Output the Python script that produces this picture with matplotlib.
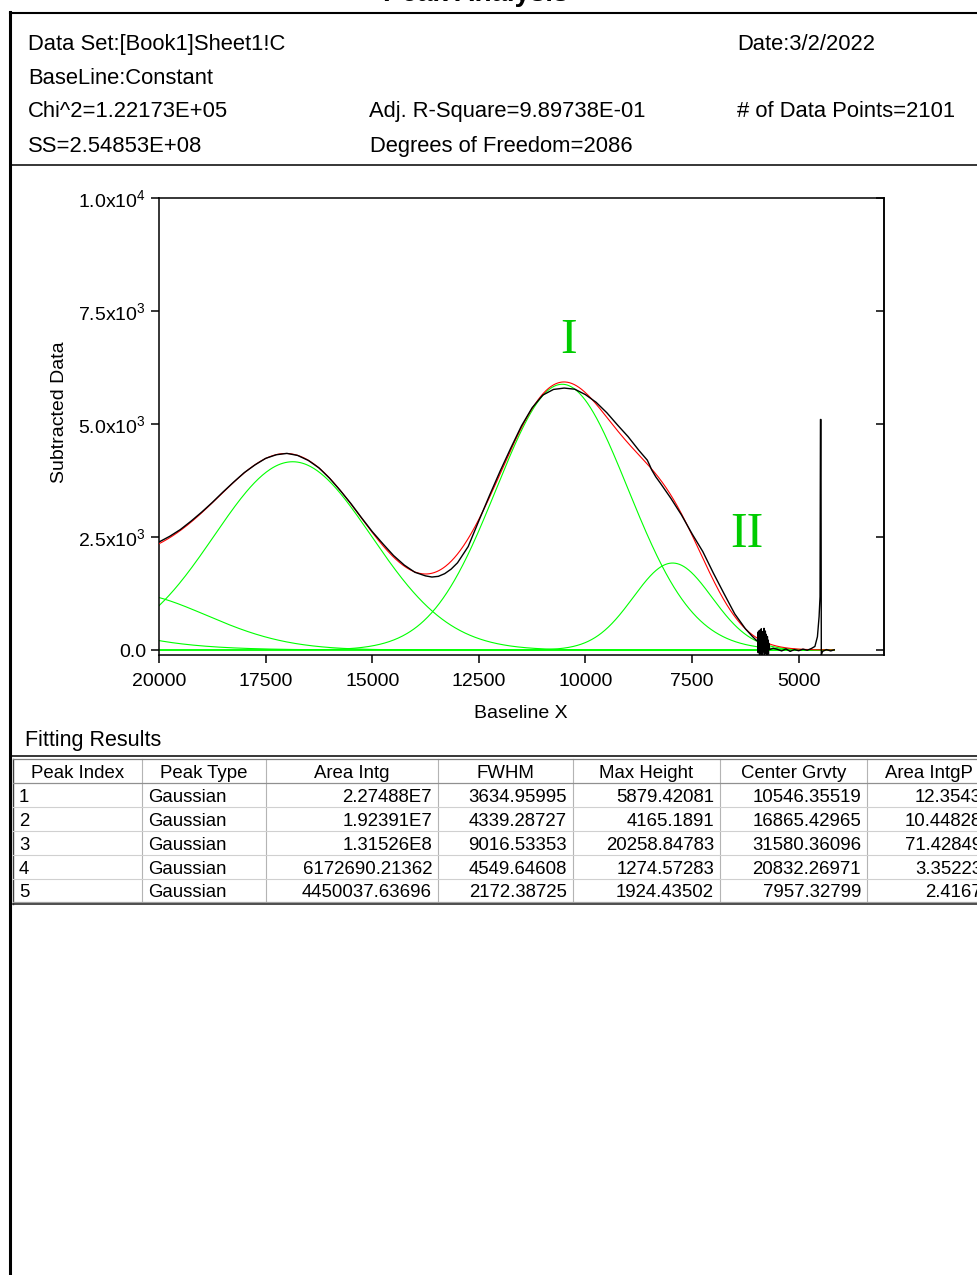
import numpy as np
import matplotlib
matplotlib.use("Agg")
import matplotlib.pyplot as plt
from matplotlib.ticker import FixedLocator, FixedFormatter

plt.rcParams['font.family'] = ['Liberation Sans', 'DejaVu Sans']
plt.rcParams['mathtext.default'] = 'regular'

# ---------------- report header ----------------
title = "Peak Analysis"
dataset_txt = "Data Set:[Book1]Sheet1!C"
date_txt = "Date:3/2/2022"
baseline_txt = "BaseLine:Constant"
chi2_txt = "Chi^2=1.22173E+05"
adjr2_txt = "Adj. R-Square=9.89738E-01"
npts_txt = "# of Data Points=2101"
ss_txt = "SS=2.54853E+08"
dof_txt = "Degrees of Freedom=2086"

# ---------------- fitting results table ----------------
table_headers = ["Peak Index", "Peak Type", "Area Intg", "FWHM", "Max Height",
                 "Center Grvty", "Area IntgP"]
peak_index = ["1", "2", "3", "4", "5"]
peak_type = ["Gaussian", "Gaussian", "Gaussian", "Gaussian", "Gaussian"]
area_intg = ["2.27488E7", "1.92391E7", "1.31526E8", "6172690.21362", "4450037.63696"]
fwhm = ["3634.95995", "4339.28727", "9016.53353", "4549.64608", "2172.38725"]
max_height = ["5879.42081", "4165.1891", "20258.84783", "1274.57283", "1924.43502"]
center_grvty = ["10546.35519", "16865.42965", "31580.36096", "20832.26971", "7957.32799"]
area_pct = ["12.3543", "10.44828", "71.42849", "3.35223", "2.4167"]
baseline_value = 0.0

# spectral grid of the 2101 data points (300-2400 nm, shown as 1e7/nm)
wavelength_nm = np.arange(300, 2401)

data_x = [20000, 19750, 19500, 19250, 19000, 18750, 18500, 18250, 18000, 17750,
          17500, 17250, 17000, 16750, 16500, 16250, 16000, 15750, 15500, 15250,
          15000, 14750, 14500, 14250, 14000, 13750, 13600, 13450, 13300, 13150,
          13000, 12750, 12500, 12250, 12000, 11750, 11500, 11250, 11000, 10750,
          10500, 10250, 10000, 9750, 9500, 9250, 9000, 8750, 8550, 8500,
          8450, 8350, 8250, 8000, 7750, 7500, 7250, 7000, 6750, 6500,
          6250, 6100, 6000,
          5965, 5958, 5950, 5942, 5934, 5926, 5918, 5910, 5902, 5894,
          5886, 5878, 5870, 5862, 5854, 5846, 5838, 5830, 5822, 5814,
          5806, 5798, 5790, 5782, 5774, 5766, 5758, 5750, 5742, 5734,
          5726, 5718, 5710, 5702,
          5680, 5600, 5500, 5400, 5300, 5200, 5100, 5000, 4900, 4800,
          4700, 4620, 4561, 4522, 4500, 4490, 4478, 4470, 4440, 4350,
          4250, 4167]
data_y = [2390, 2515, 2665, 2850, 3050, 3265, 3495, 3715, 3925, 4095,
          4240, 4320, 4350, 4305, 4195, 4030, 3800, 3530, 3240, 2925,
          2620, 2350, 2090, 1880, 1720, 1640, 1615, 1630, 1690, 1790,
          1930, 2290, 2860, 3420, 3960, 4470, 4960, 5360, 5640, 5765,
          5795, 5770, 5650, 5480, 5250, 4980, 4720, 4420, 4200, 4100,
          3990, 3830, 3700, 3360, 2990, 2570, 2180, 1700, 1245, 800,
          470, 315, 220,
          200, 380, -60, 420, 40, 300, -100, 440, 20, 360,
          -90, 470, 80, 250, -110, 410, -40, 330, 60, 480,
          -100, 280, 10, 420, -80, 350, 30, 260, -110, 300,
          -20, 220, -90, 150,
          10, 40, 15, -20, 25, -30, 10, -15, 20, -5,
          35, 80, 295, 740, 1180, 5100, 5100, -110, -30, 10,
          -20, 5]

# ---------------- figure ----------------
W, H = 977, 1275
fig = plt.figure(figsize=(W / 100, H / 100), dpi=100)
fig.patch.set_facecolor('white')

# chart axes (pixel box: x 159-884, y 198-655)
ax = fig.add_axes([159 / W, 1 - 655 / H, (884 - 159) / W, (655 - 198) / H])

x_fit = 1e7 / wavelength_nm
centers = [float(v) for v in center_grvty]
heights = [float(v) for v in max_height]
sigmas = [float(v) / (2 * np.sqrt(2 * np.log(2))) for v in fwhm]

green = '#00ff00'
peaks = []
for c, h, s in zip(centers, heights, sigmas):
    yk = baseline_value + h * np.exp(-0.5 * ((x_fit - c) / s) ** 2)
    peaks.append(yk)
    ax.plot(x_fit, yk, color=green, lw=0.8, zorder=2)
ax.plot(x_fit, np.full_like(x_fit, baseline_value), color=green, lw=0.8, zorder=2)
cumulative = baseline_value + np.sum([p - baseline_value for p in peaks], axis=0)
ax.plot(x_fit, cumulative, color='#ff0000', lw=0.8, zorder=3)
ax.plot(data_x, data_y, color='black', lw=1.0, zorder=4)

ax.text(10400, 6570, "I", family='Liberation Serif', fontsize=36, color='#00cc00',
        ha='center', va='baseline')
ax.text(6221, 2278, "II", family='Liberation Serif', fontsize=36, color='#00cc00',
        ha='center', va='baseline')

ax.set_xlim(20000, 3000)
ax.set_ylim(-110, 10000)

xticks = [20000, 17500, 15000, 12500, 10000, 7500, 5000]
xtick_labels = ["20000", "17500", "15000", "12500", "10000", "7500", "5000"]
yticks = [0, 2500, 5000, 7500, 10000]
ytick_labels = ["0.0", "2.5x10$^3$", "5.0x10$^3$", "7.5x10$^3$", "1.0x10$^4$"]
ax.xaxis.set_major_locator(FixedLocator(xticks))
ax.xaxis.set_major_formatter(FixedFormatter(xtick_labels))
ax.yaxis.set_major_locator(FixedLocator(yticks))
ax.yaxis.set_major_formatter(FixedFormatter(ytick_labels))
ax.tick_params(axis='x', direction='out', length=5.8, width=1.1, labelsize=14, pad=7,
               top=False)
ax.tick_params(axis='y', direction='out', length=5.8, width=1.1, labelsize=14, pad=3.5,
               right=False)
for sp in ax.spines.values():
    sp.set_linewidth(1.1)

sec = ax.secondary_yaxis('right')
sec.yaxis.set_major_locator(FixedLocator(yticks))
sec.tick_params(direction='in', length=5.8, width=1.1, labelright=False)
sec.spines['right'].set_linewidth(1.1)

# ---------------- overlay in pixel coordinates ----------------
ov = fig.add_axes([0, 0, 1, 1])
ov.set_xlim(0, W)
ov.set_ylim(H, 0)
ov.axis('off')
ov.patch.set_visible(False)

# axis labels
ov.text(521, 718, "Baseline X", fontsize=14, ha='center', va='baseline')
ov.text(64, 412, "Subtracted Data", fontsize=14, rotation=90, ha='center',
        va='baseline', rotation_mode='anchor')

# page frame
ov.plot([10, 977], [12.5, 12.5], color='black', lw=1.5, clip_on=False)
ov.plot([10, 10], [12, 1275], color='black', lw=2.2, clip_on=False)
ov.plot([10, 977], [165, 165], color='black', lw=1.1, clip_on=False)
ov.plot([10, 977], [756, 756], color='black', lw=1.1, clip_on=False)

ov.text(476, 1, title, fontsize=20, fontweight='bold', ha='center', va='baseline',
        clip_on=False)

hfs = 15.8
ov.text(28, 50, dataset_txt, fontsize=hfs, va='baseline')
ov.text(737, 50, date_txt, fontsize=hfs, va='baseline')
ov.text(28, 84, baseline_txt, fontsize=hfs, va='baseline')
ov.text(28, 117, chi2_txt, fontsize=hfs, va='baseline')
ov.text(369, 117, adjr2_txt, fontsize=hfs, va='baseline')
ov.text(737, 117, npts_txt, fontsize=hfs, va='baseline')
ov.text(28, 152, ss_txt, fontsize=hfs, va='baseline')
ov.text(370, 152, dof_txt, fontsize=hfs, va='baseline')

ov.text(25, 746, "Fitting Results", fontsize=15.5, va='baseline')

# table
col_edges = [13, 142, 266, 438, 573, 720, 867, 990]
row_edges = [759, 783, 807, 831, 855, 879, 902]
grid_c = '#b4b4b4'
for xe in col_edges[1:]:
    ov.plot([xe, xe], [row_edges[0], row_edges[-1]], color=grid_c, lw=0.8, clip_on=False)
ov.plot([13, 13], [row_edges[0], 904], color='#404040', lw=1.0, clip_on=False)
for ye in row_edges[2:-1]:
    ov.plot([13, 990], [ye, ye], color='#d0d0d0', lw=0.8, clip_on=False)
ov.plot([13, 990], [row_edges[0], row_edges[0]], color='#808080', lw=0.9, clip_on=False)
ov.plot([13, 990], [row_edges[1], row_edges[1]], color='#909090', lw=0.9, clip_on=False)
ov.plot([13, 990], [row_edges[-1], row_edges[-1]], color='#a0a0a0', lw=0.9, clip_on=False)
ov.plot([13, 990], [904, 904], color='#303030', lw=1.2, clip_on=False)

tfs = 13.4
for j, hdr in enumerate(table_headers):
    xc = (col_edges[j] + col_edges[j + 1]) / 2
    ov.text(xc, 778, hdr, fontsize=tfs, ha='center', va='baseline', clip_on=False)

columns = [peak_index, peak_type, area_intg, fwhm, max_height, center_grvty, area_pct]
for i in range(len(peak_index)):
    yb = (row_edges[i + 1] + row_edges[i + 2]) / 2 + 6.7
    for j, col in enumerate(columns):
        if j < 2:
            ov.text(col_edges[j] + 6, yb, col[i], fontsize=tfs, ha='left',
                    va='baseline', clip_on=False)
        else:
            xr = col_edges[j + 1] - 6 if j < 6 else 982
            ov.text(xr, yb, col[i], fontsize=tfs, ha='right', va='baseline',
                    clip_on=False)

fig.savefig("out.png", dpi=100, facecolor='white')
